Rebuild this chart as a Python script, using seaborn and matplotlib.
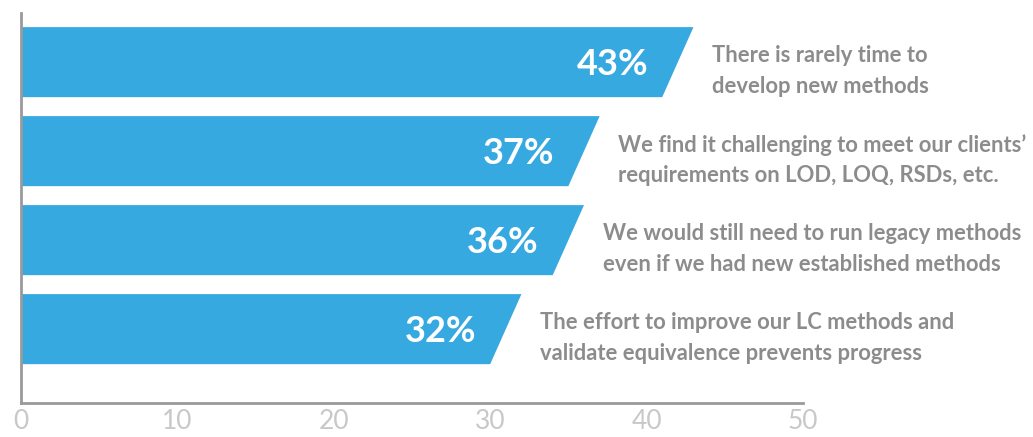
import matplotlib
matplotlib.use("Agg")
import matplotlib.pyplot as plt
from matplotlib.patches import Polygon
import seaborn as sns
import pandas as pd

statements = [
    "There is rarely time to\ndevelop new methods",
    "We find it challenging to meet our clients’\nrequirements on LOD, LOQ, RSDs, etc.",
    "We would still need to run legacy methods\neven if we had new established methods",
    "The effort to improve our LC methods and\nvalidate equivalence prevents progress",
]
percent = [43, 37, 36, 32]
x_ticks = [0, 10, 20, 30, 40, 50]

BAR_BLUE = "#36a9e1"
TEXT_GREY = "#8c8c8c"
TICK_GREY = "#c8c8c8"
SPINE_GREY = "#9a9a9a"
SLANT = 2.0  # how far the lower edge of each bar end is cut back, in axis units

sns.set_theme(style="white")
plt.rcParams["font.family"] = ["Lato", "DejaVu Sans"]

df = pd.DataFrame({"statement": statements, "percent": percent})

fig = plt.figure(figsize=(10.33, 4.37), dpi=100)
ax = fig.add_axes([0.0203, 0.0778, 0.757, 0.892])

sns.barplot(data=df, x="percent", y="statement", orient="h",
            color=BAR_BLUE, saturation=1, width=0.787, ax=ax)

# Replace each rectangle with a bar whose right end is slanted
for patch in list(ax.patches):
    x0 = patch.get_x()
    y0 = patch.get_y()
    w = patch.get_width()
    h = patch.get_height()
    top, bottom = y0, y0 + h  # y axis is inverted: y0 is the upper edge
    poly = Polygon([(x0, top), (x0 + w, top), (x0 + w - SLANT, bottom), (x0, bottom)],
                   closed=True, facecolor=BAR_BLUE, edgecolor="none", zorder=2)
    patch.remove()
    ax.add_patch(poly)

for i, (val, label) in enumerate(zip(percent, statements)):
    ax.text(val - 2.9, i + 0.03, f"{val}%", ha="right", va="center",
            color="white", fontsize=26, fontweight="bold", zorder=3)
    ax.text(val + 1.2, i + 0.1, label, ha="left", va="center", color=TEXT_GREY,
            fontsize=15.8, fontweight="bold", linespacing=1.55, clip_on=False)

ax.set_xlim(0, 50)
ax.set_ylim(3.83, -0.55)
ax.set_xticks(x_ticks)
ax.set_xticklabels([str(t) for t in x_ticks], fontsize=19, color=TICK_GREY)
ax.set_yticks([])
ax.set_xlabel("")
ax.set_ylabel("")
ax.tick_params(axis="x", length=0, pad=4)

for side in ("top", "right"):
    ax.spines[side].set_visible(False)
for side in ("left", "bottom"):
    ax.spines[side].set_color(SPINE_GREY)
    ax.spines[side].set_linewidth(2)

fig.savefig("out.png", dpi=100)
